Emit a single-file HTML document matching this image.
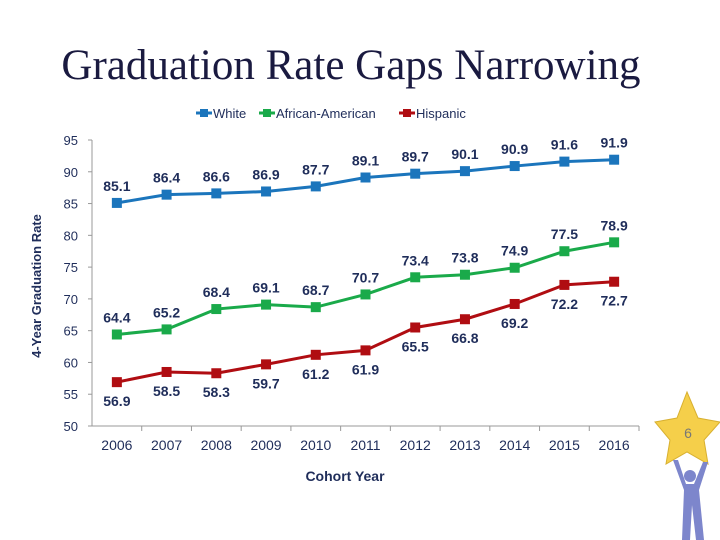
<!DOCTYPE html>
<html><head><meta charset="utf-8"><style>
body{margin:0;width:720px;height:540px;background:#fff;overflow:hidden;position:relative;font-family:"Liberation Sans",sans-serif}
#title{position:absolute;left:0;width:702px;top:41px;text-align:center;font-family:"Liberation Serif",serif;font-size:43px;color:#1a1a40;white-space:nowrap}
svg{position:absolute;left:0;top:0}
</style></head><body>
<div id="title">Graduation Rate Gaps Narrowing</div>
<svg id="chart" width="720" height="540"></svg>
<script>
const years=["2006","2007","2008","2009","2010","2011","2012","2013","2014","2015","2016"];
const white=[85.1,86.4,86.6,86.9,87.7,89.1,89.7,90.1,90.9,91.6,91.9];
const african=[64.4,65.2,68.4,69.1,68.7,70.7,73.4,73.8,74.9,77.5,78.9];
const hispanic=[56.9,58.5,58.3,59.7,61.2,61.9,65.5,66.8,69.2,72.2,72.7];
const yTicks=[50,55,60,65,70,75,80,85,90,95];
const NS="http://www.w3.org/2000/svg";
const svg=document.getElementById('chart');
const x0=92,x1=639,yTop=140,yBot=426;
const yS=v=>yBot-(v-50)/45*(yBot-yTop);
const step=(x1-x0)/years.length;
const xS=i=>x0+step*(i+0.5);
function mk(t,a,txt){const e=document.createElementNS(NS,t);for(const k in a)e.setAttribute(k,a[k]);if(txt!==undefined)e.textContent=txt;svg.appendChild(e);return e;}
let ax=mk('line',{x1:x0,y1:yTop,x2:x0,y2:yBot,stroke:'#999'});

let bx=mk('line',{x1:x0,y1:yBot,x2:x1,y2:yBot,stroke:'#999'});

yTicks.forEach(v=>{
 const t=mk('text',{x:x0-14,y:yS(v)+5,'text-anchor':'end','font-size':13,fill:'#1f2d5a'},v);
 
 mk('line',{x1:x0-4,y1:yS(v),x2:x0,y2:yS(v),stroke:'#999'});
});
years.forEach((y,i)=>{
 const t=mk('text',{x:xS(i),y:450,'text-anchor':'middle','font-size':14,fill:'#1f2d5a'},y);
 
 mk('line',{x1:x0+step*(i+1),y1:yBot,x2:x0+step*(i+1),y2:yBot+5,stroke:'#999'});
});
let xt=mk('text',{x:345,y:481,'text-anchor':'middle','font-size':14,'font-weight':'bold',fill:'#1f2d5a'},'Cohort Year');

let yt=mk('text',{x:0,y:0,'text-anchor':'middle','font-size':13,'font-weight':'bold',fill:'#1f2d5a',transform:'translate(41,286) rotate(-90)'},'4-Year Graduation Rate');

const series=[[white,'#1b75bc','white',-1,'White'],[african,'#1aaa4a','african-american',-1,'African-American'],[hispanic,'#b00d12','hispanic',1,'Hispanic']];
series.forEach(([d,c,n,side])=>{
 const p=mk('polyline',{points:d.map((v,i)=>xS(i)+','+yS(v)).join(' '),fill:'none',stroke:c,'stroke-width':3});
 
 d.forEach((v,i)=>{
  const r=mk('rect',{x:xS(i)-5,y:yS(v)-5,width:10,height:10,fill:c});
  
  const t=mk('text',{x:xS(i),y:side<0?yS(v)-12:yS(v)+24,'text-anchor':'middle','font-size':14,'font-weight':'bold',fill:'#1f2d5a'},v.toFixed(1));
  
 });
});
let lx=196;
series.forEach(([d,c,n,s,label])=>{
 mk('line',{x1:lx,y1:113,x2:lx+16,y2:113,stroke:c,'stroke-width':3});
 const r=mk('rect',{x:lx+4,y:109,width:8,height:8,fill:c});
 
 const t=mk('text',{x:lx+17,y:118,'font-size':13,fill:'#1f2d5a'},label);
 
 lx+=label.length*7+28;
});
let st=mk('polygon',{points:'687,392 698,418 720,422 704,440 708,464 687,452 666,464 670,440 655,422 677,418',fill:'#f5cf4a',stroke:'#d8b030'});

let pn=mk('text',{x:688,y:438,'text-anchor':'middle','font-size':14,fill:'#777'},'6');

let fig=mk('path',{d:'M673,460 L684,490 L682,540 L690,540 L692,505 L696,540 L704,540 L699,490 L708,462 L703,462 L694,484 L686,484 L678,460 Z',fill:'#7d86cc'});

mk('circle',{cx:690,cy:476,r:6,fill:'#7d86cc'});
</script>
</body></html>
